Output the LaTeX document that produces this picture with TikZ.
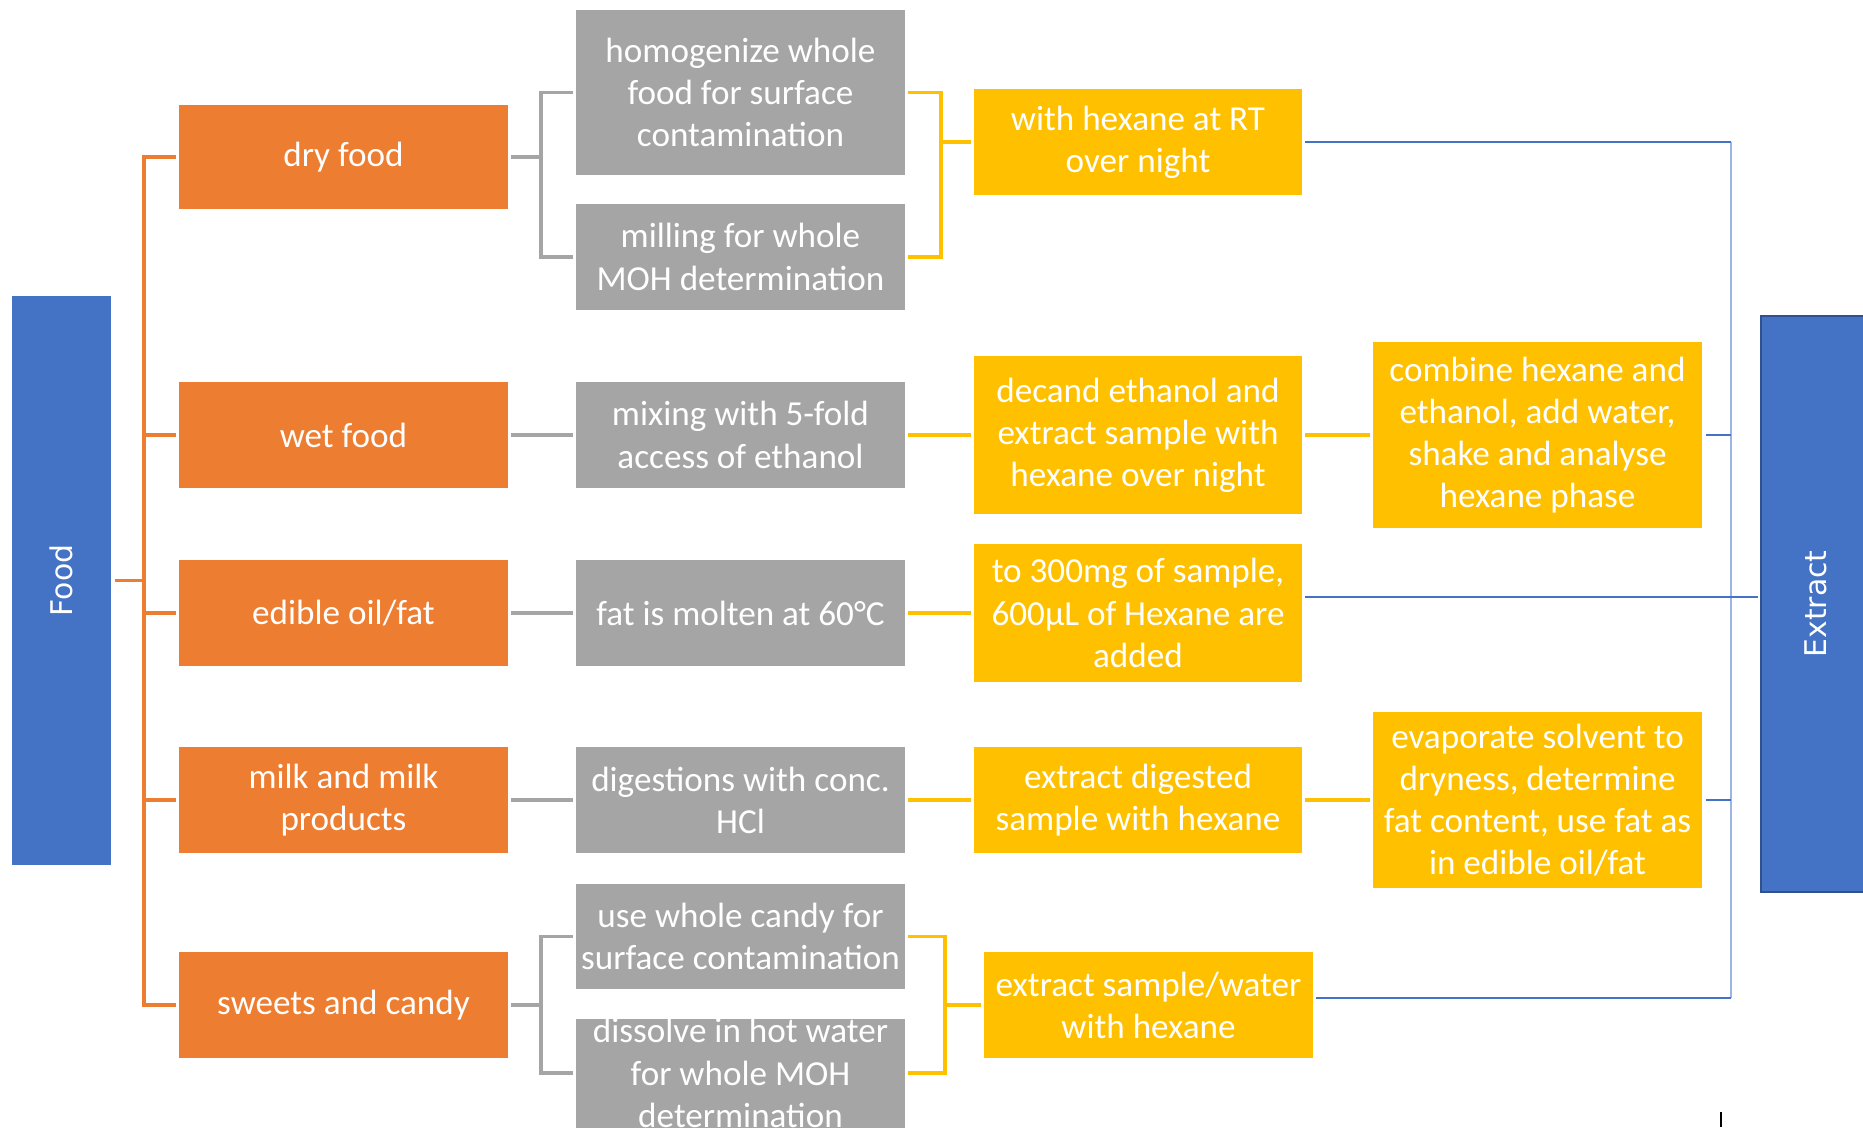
\documentclass[tikz,border=0pt]{standalone}
\usepackage{fontspec}
\usepackage{graphicx}
\setmainfont{Carlito}
\newfontfamily\sidefont{DejaVu Sans}
\definecolor{foodorange}{HTML}{ED7D31}
\definecolor{prepgray}{HTML}{A5A5A5}
\definecolor{solvgold}{HTML}{FFC000}
\definecolor{sideblue}{HTML}{4472C4}
\definecolor{sidedark}{HTML}{2F528F}
\definecolor{linkblue}{HTML}{9DB5E2}
\begin{document}
\begin{tikzpicture}[x=0.02cm,y=-0.02cm,
	base/.style={inner sep=0pt, outer sep=2pt, text=white, align=center,
		font=\fontsize{20}{24}\selectfont, minimum width=6.58cm, minimum height=2.12cm},
	catbox/.style={base, fill=foodorange},
	prepbox/.style={base, fill=prepgray},
	solvbox/.style={base, fill=solvgold},
	sidebox/.style={fill=sideblue, text=white, inner sep=0pt, outer sep=2pt,
		font=\sidefont\fontsize{17}{20}\selectfont},
	oline/.style={draw=foodorange, line width=2pt},
	gline/.style={draw=prepgray, line width=2.2pt},
	yline/.style={draw=solvgold, line width=2.2pt},
	bline/.style={draw=sideblue, line width=1.2pt},
	bvline/.style={draw=linkblue, line width=1.2pt}]
	\useasboundingbox (0,0) rectangle (1863,1127);
	%Left and right bars
	\node[sidebox, minimum width=1.98cm, minimum height=11.38cm] (food) at (61.5,580.5) {\rotatebox{90}{Food}};
	\node[sidebox, draw=sidedark, line width=1pt, minimum width=2.2cm, minimum height=11.52cm] (extract) at (1816,604) {\rotatebox{90}{Extract}};
	%Food categories
	\node[catbox, minimum height=2.08cm] (dry) at (343.5,157) {dry food};
	\node[catbox] (wet) at (343.5,435) {wet food};
	\node[catbox] (oil) at (343.5,613) {edible oil/fat};
	\node[catbox] (milk) at (343.5,800) {milk and milk\\products};
	\node[catbox] (sweets) at (343.5,1005) {sweets and candy};
	%Sample preparation
	\node[prepbox, minimum height=3.3cm] (homog) at (740.5,92.5) {homogenize whole\\food for surface\\contamination};
	\node[prepbox] (milling) at (740.5,257) {milling for whole\\MOH determination};
	\node[prepbox] (mixing) at (740.5,435) {mixing with 5-fold\\access of ethanol};
	\node[prepbox] (molten) at (740.5,613) {fat is molten at 60°C};
	\node[prepbox] (digest) at (740.5,800) {digestions with conc.\\HCl};
	\node[prepbox, minimum height=2.1cm] (candy) at (740.5,936.5) {use whole candy for\\surface contamination};
	\node[prepbox] (dissolve) at (740.5,1073) {dissolve in hot water\\for whole MOH\\determination};
	%Extraction
	\node[solvbox, minimum width=6.56cm] (hexane) at (1138,142) {with hexane at RT\\over night};
	\node[solvbox, minimum width=6.56cm, minimum height=3.16cm] (decand) at (1138,435) {decand ethanol and\\extract sample with\\hexane over night};
	\node[solvbox, minimum width=6.56cm, minimum height=2.76cm] (to300) at (1138,613) {to 300mg of sample,\\600µL of Hexane are\\added};
	\node[solvbox, minimum width=6.56cm] (digested) at (1138,800) {extract digested\\sample with hexane};
	\node[solvbox] (water) at (1148.5,1005) {extract sample/water\\with hexane};
	\node[solvbox, minimum height=3.72cm] (combine) at (1537.5,435) {combine hexane and\\ethanol, add water,\\shake and analyse\\hexane phase};
	\node[solvbox, minimum height=3.52cm] (evap) at (1537.5,800) {evaporate solvent to\\dryness, determine\\fat content, use fat as\\in edible oil/fat};
	%Trunk positions
	\coordinate (otrunk) at (144,0);
	\coordinate (gtrunk) at (541,0);
	\coordinate (ytrunk) at (941,0);
	\coordinate (ytrunkb) at (945,0);
	\coordinate (btrunk) at (1731,0);
	%Orange tree
	\draw[oline] (food.east) -- (food.east -| otrunk);
	\draw[oline] (dry.west) -- (dry.west -| otrunk) -- (sweets.west -| otrunk) -- (sweets.west);
	\foreach \n in {wet,oil,milk} {
		\draw[oline] (\n.west) -- (\n.west -| otrunk);
	}
	%Gray links
	\draw[gline] (dry.east) -- (dry.east -| gtrunk);
	\draw[gline] (homog.west) -- (homog.west -| gtrunk) -- (milling.west -| gtrunk) -- (milling.west);
	\draw[gline] (sweets.east) -- (sweets.east -| gtrunk);
	\draw[gline] (candy.west) -- (candy.west -| gtrunk) -- (dissolve.west -| gtrunk) -- (dissolve.west);
	\foreach \a/\b in {wet/mixing,oil/molten,milk/digest} {
		\draw[gline] (\a) -- (\b);
	}
	%Yellow links
	\draw[yline] (homog.east) -- (homog.east -| ytrunk) -- (milling.east -| ytrunk) -- (milling.east);
	\draw[yline] (hexane.west) -- (hexane.west -| ytrunk);
	\draw[yline] (candy.east) -- (candy.east -| ytrunkb) -- (dissolve.east -| ytrunkb) -- (dissolve.east);
	\draw[yline] (water.west) -- (water.west -| ytrunkb);
	\foreach \a/\b in {mixing/decand,decand/combine,molten/to300,digest/digested,digested/evap} {
		\draw[yline] (\a) -- (\b);
	}
	%Blue links to the extract
	\coordinate (wout) at ([yshift=0.14cm]water.east);
	\draw[bvline] (hexane.east -| btrunk) -- (wout -| btrunk);
	\foreach \n in {hexane,combine,evap} {
		\draw[bline] (\n.east) -- (\n.east -| btrunk);
	}
	\draw[bline] (wout) -- (wout -| btrunk);
	\draw[bline] ([yshift=0.32cm]to300.east) -- ([yshift=0.32cm]to300.east -| extract.west);
	%Stray mark
	\coordinate (tick) at (1721,1112);
	\draw[line width=0.8pt] (tick) -- ++(0,15);
\end{tikzpicture}
\end{document}
